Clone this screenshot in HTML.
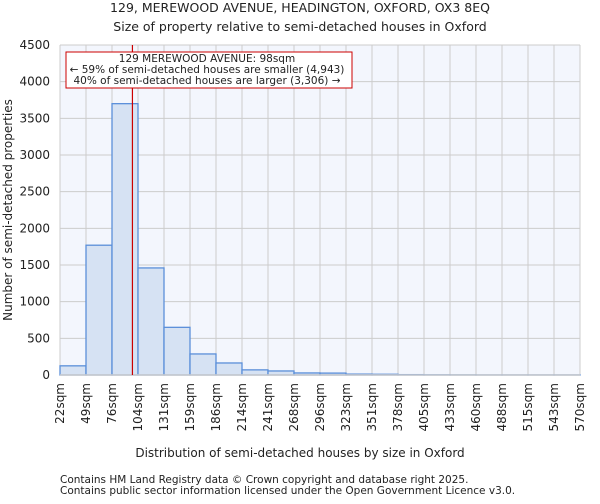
<!DOCTYPE html>
<html><head><meta charset="utf-8"><style>
body{margin:0;background:#fff;font-family:"DejaVu Sans","Liberation Sans",sans-serif;}
svg text{font-family:"DejaVu Sans","Liberation Sans",sans-serif;fill:#222;}
</style></head><body>
<svg id="chart" width="600" height="500" xmlns="http://www.w3.org/2000/svg">
<text x="300" y="12" font-size="12.5" text-anchor="middle">129, MEREWOOD AVENUE, HEADINGTON, OXFORD, OX3 8EQ</text>
<text x="300" y="31" font-size="12.5" text-anchor="middle">Size of property relative to semi-detached houses in Oxford</text>
<rect x="60" y="45" width="520" height="330" fill="#f3f6fd"/>
<g id="grid"></g><g id="bars"></g><g id="axes"></g>
<text x="300" y="457" font-size="12" text-anchor="middle">Distribution of semi-detached houses by size in Oxford</text>
<text transform="translate(12,210) rotate(-90)" font-size="12" text-anchor="middle">Number of semi-detached properties</text>
<text x="60" y="483" font-size="10.5" fill="#444">Contains HM Land Registry data © Crown copyright and database right 2025.</text>
<text x="60" y="494" font-size="10.5" fill="#444">Contains public sector information licensed under the Open Government Licence v3.0.</text>
</svg>
<script>
const binLabels=["22sqm","49sqm","76sqm","104sqm","131sqm","159sqm","186sqm","214sqm","241sqm","268sqm","296sqm","323sqm","351sqm","378sqm","405sqm","433sqm","460sqm","488sqm","515sqm","543sqm","570sqm"];
const counts=[125,1770,3700,1460,650,287,164,70,55,28,26,12,10,5,3,2,1,1,1,1];
const yTicks=[0,500,1000,1500,2000,2500,3000,3500,4000,4500];
const propertySize=98;
const ns="http://www.w3.org/2000/svg";
const X0=60,X1=580,Y0=375,Y1=45,YMAX=4500;
const bw=(X1-X0)/counts.length;
const xb=i=>X0+i*bw;
const y=v=>Y0-(v/YMAX)*(Y0-Y1);
const xv=v=>{const e=binLabels.map(s=>parseFloat(s));for(let i=0;i<e.length-1;i++){if(v<=e[i+1])return xb(i)+bw*(v-e[i])/(e[i+1]-e[i]);}return X1;};
function mk(t,a,p){const e=document.createElementNS(ns,t);for(const k in a)e.setAttribute(k,a[k]);p.appendChild(e);return e;}
const g=document.getElementById('grid'),b=document.getElementById('bars'),ax=document.getElementById('axes');
yTicks.forEach(t=>{
 const l=mk('line',{x1:X0,x2:X1,y1:y(t),y2:y(t),stroke:'#cccccc','stroke-width':1},g);
 
 
 const tx=mk('text',{x:X0-10,y:y(t)+4,'font-size':12,'text-anchor':'end'},ax);tx.textContent=t;
 
 
});
binLabels.forEach((s,i)=>{
 const l=mk('line',{x1:xb(i),x2:xb(i),y1:Y1,y2:Y0,stroke:'#cccccc','stroke-width':1},g);
 
 
 const tx=mk('text',{x:0,y:0,'font-size':12,'text-anchor':'end',transform:`translate(${xb(i)+4},${Y0+8}) rotate(-90)`},ax);tx.textContent=s;
 
 
});
counts.forEach((c,i)=>{
 const r=mk('rect',{x:xb(i),y:y(c),width:bw,height:Y0-y(c),fill:'#d6e2f3',stroke:'#5b8fd9','stroke-width':1.3},b);
 
 
});
const bl=mk('line',{x1:X0,x2:X1,y1:Y0,y2:Y0,stroke:'#cccccc','stroke-width':1.5},ax);


const px=xv(propertySize);
const ml=mk('line',{x1:px,x2:px,y1:Y1,y2:Y0,stroke:'#cc0000','stroke-width':1.2},ax);


const box=mk('rect',{x:66,y:52,width:286,height:36,fill:'#fff',stroke:'#cc0000','stroke-width':1},ax);


["129 MEREWOOD AVENUE: 98sqm","← 59% of semi-detached houses are smaller (4,943)","40% of semi-detached houses are larger (3,306) →"].forEach((s,i)=>{
 const t=mk('text',{x:207,y:62+i*11,'font-size':10.5,'text-anchor':'middle'},ax);t.textContent=s;
 
 
});
</script>
</body></html>
